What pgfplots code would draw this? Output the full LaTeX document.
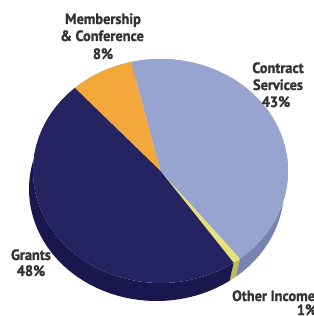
\documentclass[border=0pt]{standalone}
\usepackage{pgfplots}
\pgfplotsset{compat=1.18}
\usepackage{fontspec}
\setmainfont{PT Sans}[FakeStretch=0.96, BoldFeatures={FakeBold=1.2}]
\definecolor{grants}{RGB}{38,35,98}
\definecolor{grantsside}{RGB}{26,23,78}
\definecolor{memb}{RGB}{242,168,58}
\definecolor{membside}{RGB}{200,135,40}
\definecolor{contract}{RGB}{152,164,208}
\definecolor{contractside}{RGB}{118,130,176}
\definecolor{other}{RGB}{232,226,120}
\definecolor{otherside}{RGB}{190,185,90}
\definecolor{txt}{RGB}{50,50,50}
% shares (percent), counter-clockwise from the lower right:
% Other Income 1, Contract Services 43, Membership & Conference 8, Grants 48
% slice from cumulative #1 to #2 percent; angle = -55 + 3.6*percent
\newcommand\topslice[3]{%
  \addplot[fill=#3, draw=none, domain={-55+3.6*#1}:{-55+3.6*#2}, samples=90, variable=\t]
    ({160.5+127.5*cos(\t)}, {145+112*sin(\t)}) -- (160.5,145) -- cycle;}
\newcommand\sideslice[3]{%
  \addplot[fill=#3, draw=none, domain=0:2, samples=201, variable=\s]
    ({\s<0.995 ? 160.5+127.5*cos((-55+3.6*#1)+3.6*(#2-#1)*min(\s/0.99,1)) : 156.5+127.5*cos((-55+3.6*#2)-3.6*(#2-#1)*max(\s-1,0))},
     {\s<0.995 ? 145+112*sin((-55+3.6*#1)+3.6*(#2-#1)*min(\s/0.99,1)) : 127+112*sin((-55+3.6*#2)-3.6*(#2-#1)*max(\s-1,0))}) -- cycle;}
\begin{document}
\begin{tikzpicture}
\useasboundingbox (0,0) rectangle (314bp,316bp);
\clip (0,0) rectangle (314bp,316bp);
\begin{axis}[at={(0,0)}, anchor=south west, scale only axis,
  width=314bp, height=316bp, xmin=0, xmax=314, ymin=0, ymax=316,
  hide axis, clip=false]
% sides
\sideslice{0}{1}{otherside}
\sideslice{1}{44}{contractside}
\sideslice{44}{52}{membside}
\sideslice{52}{100}{grantsside}
% top faces
\topslice{0}{1}{other}
\topslice{1}{44}{contract}
\topslice{44}{52}{memb}
\topslice{52}{100}{grants}
% labels
\begin{scope}[every node/.style={font=\bfseries\fontsize{15}{17}\selectfont, text=txt, inner sep=0pt}]
\node[anchor=base] at (axis cs:103,292) {Membership};
\node[anchor=base] at (axis cs:102,275) {\& Conference};
\node[anchor=base] at (axis cs:103,257) {8\%};
\node[anchor=base] at (axis cs:278,243) {Contract};
\node[anchor=base] at (axis cs:278,226) {Services};
\node[anchor=base] at (axis cs:276,209) {43\%};
\node[anchor=base] at (axis cs:31,56) {Grants};
\node[anchor=base] at (axis cs:31,40) {48\%};
\node[anchor=base west] at (axis cs:232,15) {Other Income};
\node[anchor=base] at (axis cs:307,1) {1\%};
\end{scope}
\end{axis}
\end{tikzpicture}
\end{document}
